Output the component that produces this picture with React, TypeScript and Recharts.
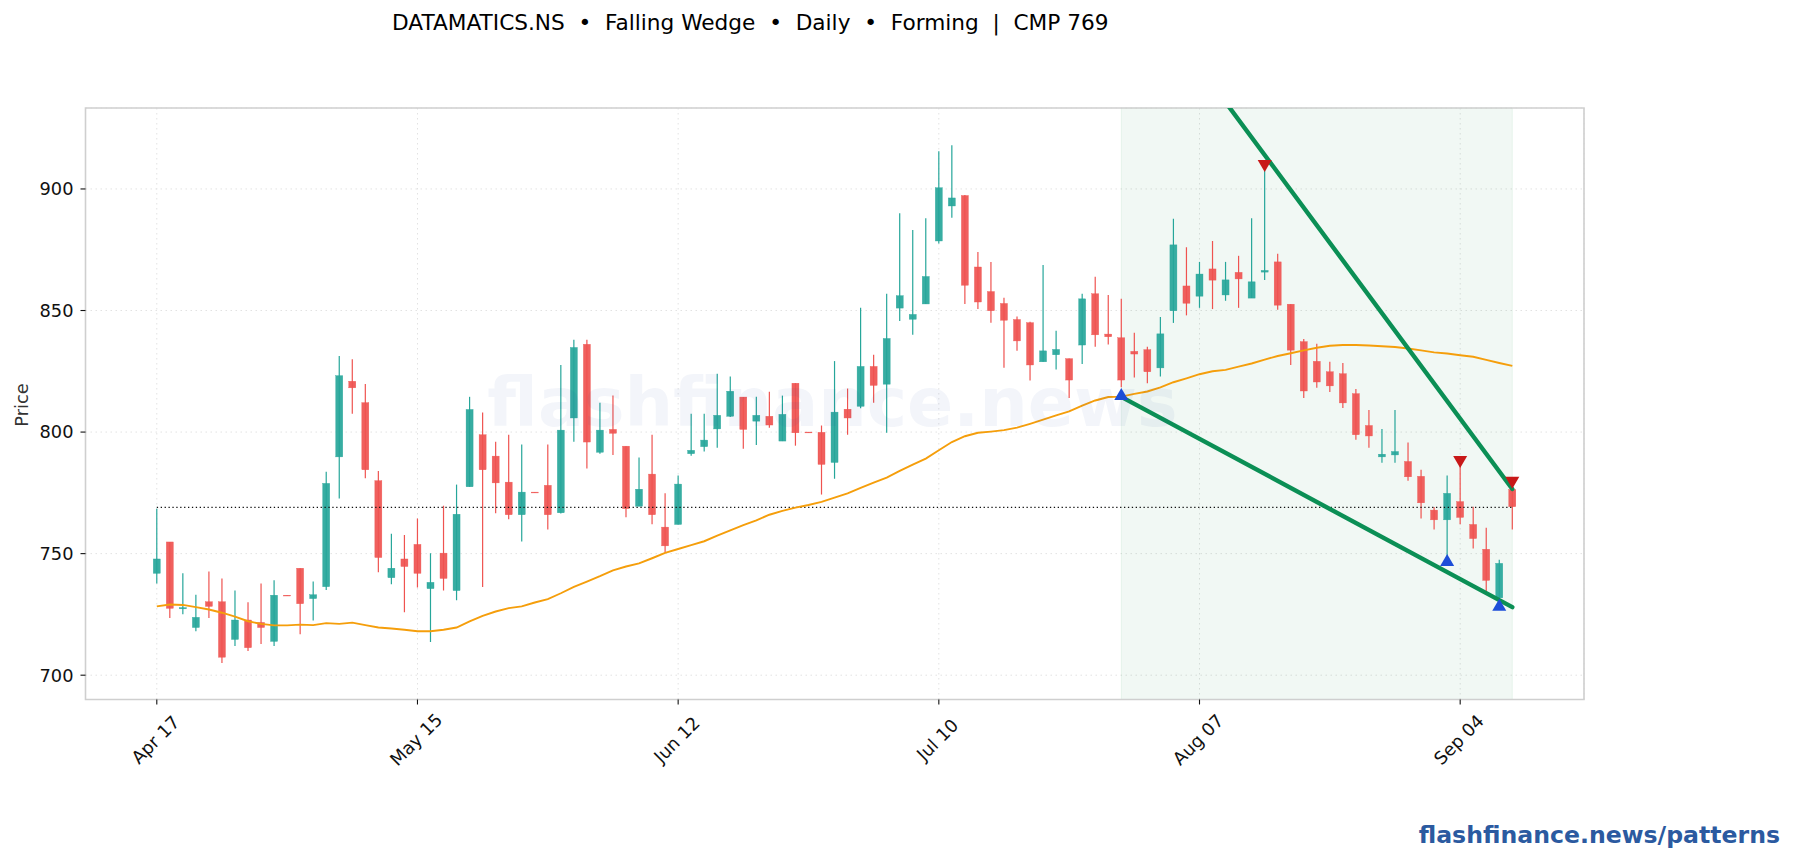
import React from "react";
import { ComposedChart, Bar, Line, XAxis, YAxis, CartesianGrid, ReferenceArea } from "recharts";

const opens = [741.9,754.8,727.3,719.6,730.2,730.2,714.7,722.7,721.7,713.9,732.9,744,731.5,736.4,789.8,820.9,812.1,780,740.1,747.8,753.8,735.6,750.2,734.8,777.5,798.9,790.1,779.4,766,775.3,778.1,766.8,805.8,836.1,791.7,801.1,794.2,769.5,782.7,760.9,762,791.1,794,801.3,806.5,814.4,804.5,806.5,796.3,820.1,800,799.9,787.5,809.4,810.6,827,819.7,851,846.4,852.7,878.6,893,897.3,867.9,857.8,852.9,846.3,845,828.9,831.8,830.2,835.8,856.9,840.3,838.8,833.2,833.9,826.4,849.9,860.1,855.9,867.1,856.4,865.7,855.1,865.8,870,852.6,837.2,829.1,824.8,824,815.8,802.7,789.8,790.6,787.9,781.8,767.9,763.9,771.4,762,751.8,731.8,776.4];
const highs = [768.5,754.8,741.9,733.1,742.7,739.8,734.8,730,737.7,739,732.9,744,738.5,783.7,831.3,830,819.8,784,758.2,757.7,764.4,750.2,769.7,778.4,814.5,808,796,798.9,794.9,775.3,794.9,827.6,838,838,812.1,815,794.2,789.5,798.9,774.8,782.1,807.5,807.5,824,822.9,814.4,814.5,816.6,815,820.1,800,802.7,829.2,817.9,851.1,831.8,856.9,890,883.1,888,915.5,918,897.5,874.1,870,855.3,847.5,845.4,868.7,841.7,830.3,856.9,863.9,856.4,854.8,840.9,835.1,847.3,887.7,876,870,878.6,870,872.5,888,909.9,873.3,852.6,838.3,836.3,828.9,828.4,817.7,809.1,801.3,809.1,795.7,784.5,769.2,782.1,787.7,769.3,760.6,747.5,778.9];
const lows = [737.7,723.5,725.1,718.1,723.5,705,712,709.9,712.8,712,732.7,716.8,722.5,735,772.7,807.5,781,742.3,737.4,725.9,736.1,713.6,734.8,730.8,777.5,736.3,766.6,764.1,755,775.1,759.9,766.5,796,785,791.1,790.6,765,769.5,762.1,750.5,762,790.3,792,793.6,806.2,793.1,794.7,801.8,796.3,794.4,799.8,774.3,780.8,798.9,809.8,812.1,799.7,845.7,840,852.7,877.6,888.2,852.7,850.6,845,826.5,833.5,821.2,828.9,825.7,814,828,835.1,836,818.4,822.4,820.1,822.9,844.9,848,851.1,850.6,854,851.1,855.1,862.6,850.3,827.6,814,818.2,816.5,809.9,796.8,793.6,787.4,787.4,780,764.4,759.9,747,762.1,752.1,734.2,729.5,759.9];
const closes = [747.8,727.5,727.8,723.8,728.3,707.4,722.7,711.3,719.6,732.9,732.7,729.4,733.1,778.9,823.2,818.2,784.5,748.4,744,744.7,741.9,738.2,739.8,766.2,809.3,784.5,779.1,766,775.3,775.1,766,800.8,834.8,795.9,800.8,799.5,768.5,776.5,766,753.2,778.6,792.5,796.7,806.9,816.8,801.1,806.9,802.9,807.3,799.7,799.8,786.7,808.2,805.8,827,819.2,838.5,856.1,848.4,864,900.5,896.3,860.4,853.5,849.9,846,837.5,827.6,833.4,834,821.4,854.8,840,839.2,821.4,832.1,824.8,840.4,877,853,865,862.5,862.6,863,861.8,866.5,852.2,833.7,816.9,820.6,819,812,798.9,798.4,790.9,792,781.6,770.9,763.9,774.8,764.9,756.2,739,746,769.3];
const movingAvg = [728.3,729.1,728.9,728,727,725.7,724.1,722.2,721.1,720.5,720.5,720.8,720.6,721.4,721.1,721.6,720.6,719.6,719.2,718.7,718.1,718.1,718.7,719.6,722.1,724.4,726.2,727.6,728.3,729.9,731.3,733.7,736.3,738.5,740.7,743.1,744.7,746,748.1,750.3,751.9,753.5,755.1,757.4,759.6,761.7,763.7,766,767.6,768.9,770,771.3,773,774.8,777,779.2,781.3,784,786.6,789.1,792.5,795.9,798.3,799.7,800.2,800.8,801.8,803.4,805.1,806.9,808.5,810.9,813,814.4,814.6,815.7,816.7,818.4,820.5,822.1,823.8,825,825.6,826.9,828.2,829.8,831.3,832.4,833.6,834.7,835.5,835.8,835.8,835.6,835.3,835,834.4,833.6,832.8,832.3,831.6,831,829.7,828.4,827.2];
const tickIndex = [0, 20, 40, 60, 80, 100];
const tickLabels = ["Apr 17", "May 15", "Jun 12", "Jul 10", "Aug 07", "Sep 04"];
const priceTicks = [700, 750, 800, 850, 900];
const cmpPrice = 769;
const patternStart = 74;
const patternEnd = 104;
const upperLine = [993.5, 776.6];
const lowerLine = [814.5, 728];
const troughs = [[74, 815.7], [99, 747.4], [103, 729]];
const peaks = [[85, 909.4], [100, 787.7], [104, 779.2]];
const xDomain = [-5.47, 109.5];
const yDomain = [690, 933.3];

const GREEN = "#26a69a";
const RED = "#ef5350";

const rows = opens.map((o, i) => {
  const row: any = {
    i, open: o, high: highs[i], low: lows[i], close: closes[i],
    range: [lows[i], highs[i]], ma: movingAvg[i], cmp: i === 0 || i === patternEnd ? cmpPrice : null,
    upper: i === patternStart ? upperLine[0] : i === patternEnd ? upperLine[1] : null,
    lower: i === patternStart ? lowerLine[0] : i === patternEnd ? lowerLine[1] : null,
    up: null, down: null,
  };
  troughs.forEach(([x, v]) => { if (x === i) row.up = v; });
  peaks.forEach(([x, v]) => { if (x === i) row.down = v; });
  return row;
});

function Candle(props: any) {
  const { x, y, width, height, payload } = props;
  const { open, high, low, close } = payload;
  const cx = x + width / 2;
  const span = high - low || 1;
  const perUnit = height / span;
  const top = y + (high - Math.max(open, close)) * perUnit;
  const bottom = y + (high - Math.min(open, close)) * perUnit;
  const color = close >= open ? GREEN : RED;
  return (
    <g>
      <line x1={cx} x2={cx} y1={y} y2={y + height} stroke={color} strokeWidth={1.2} />
      <rect x={cx - 3.5} y={top} width={7} height={Math.max(bottom - top, 0.8)} fill={color} fillOpacity={0.92} stroke={color} strokeOpacity={0.9} strokeWidth={0.4} />
    </g>
  );
}

function UpMark(props: any) {
  const { cx, cy, value, index } = props;
  if (value == null) return <g key={index} />;
  return <path key={index} d={`M${cx - 7},${cy + 6}L${cx + 7},${cy + 6}L${cx},${cy - 6}Z`} fill="#1d4ed8" />;
}

function DownMark(props: any) {
  const { cx, cy, value, index } = props;
  if (value == null) return <g key={index} />;
  return <path key={index} d={`M${cx - 7},${cy - 6}L${cx + 7},${cy - 6}L${cx},${cy + 6}Z`} fill="#c81818" />;
}

function XTick(props: any) {
  const { x, y, payload, index } = props;
  const cy = y + 33;
  const cx = x - 1.5;
  return (
    <text x={cx} y={cy} textAnchor="middle" dominantBaseline="central" transform={`rotate(-45 ${cx} ${cy})`} fontSize={17.8} fontFamily="DejaVu Sans" fill="#111">
      {tickLabels[index] ?? payload.value}
    </text>
  );
}

const overlay = (style: React.CSSProperties): React.CSSProperties => ({
  position: "absolute", whiteSpace: "pre", fontFamily: "DejaVu Sans", lineHeight: 1, pointerEvents: "none", ...style,
});

export default function App() {
  return (
    <div style={{ position: "absolute", left: 0, top: 0, width: 1793, height: 860, background: "#fff", overflow: "hidden" }}>
      <ComposedChart
        width={1793}
        height={860}
        data={rows}
        margin={{ top: 108, left: 25.5, right: 209, bottom: 110.5 }}
        barSize={7}
      >
        <ReferenceArea x1={patternStart} x2={patternEnd} y1={yDomain[0]} y2={yDomain[1]} fill="#0a8f3c" fillOpacity={0.06} stroke="#0a8f3c" strokeOpacity={0.07} ifOverflow="visible" />
        <CartesianGrid stroke="#e2e2e2" strokeDasharray="1.5 3.5" />
        <XAxis
          dataKey="i"
          type="number"
          domain={xDomain}
          allowDataOverflow
          ticks={tickIndex}
          tick={<XTick />}
          tickSize={5}
          tickLine={{ stroke: "#111", strokeWidth: 1.1 }}
          axisLine={false}
          height={50}
          interval={0}
        />
        <YAxis
          type="number"
          domain={yDomain}
          allowDataOverflow
          ticks={priceTicks}
          tickSize={5}
          tickMargin={7}
          tickLine={{ stroke: "#111", strokeWidth: 1.1 }}
          tick={{ fontSize: 17.8, fontFamily: "DejaVu Sans", fill: "#111" }}
          axisLine={false}
          width={60}
        />
        <ReferenceArea x1={xDomain[0]} x2={xDomain[1]} y1={yDomain[0]} y2={yDomain[1]} fill="none" stroke="#cfcfcf" strokeWidth={1.6} ifOverflow="visible" />
        <Line dataKey="cmp" connectNulls dot={false} stroke="#111" strokeWidth={1.3} strokeDasharray="1.3 2.6" isAnimationActive={false} legendType="none" />
        <Bar dataKey="range" shape={<Candle />} isAnimationActive={false} />
        <Line dataKey="ma" dot={false} stroke="#f59e0b" strokeWidth={1.9} isAnimationActive={false} />
        <Line dataKey="upper" connectNulls dot={false} stroke="#0b8f55" strokeWidth={4.4} strokeLinecap="round" isAnimationActive={false} />
        <Line dataKey="lower" connectNulls dot={false} stroke="#0b8f55" strokeWidth={4.4} strokeLinecap="round" isAnimationActive={false} />
        <Line dataKey="up" stroke="none" dot={<UpMark />} isAnimationActive={false} />
        <Line dataKey="down" stroke="none" dot={<DownMark />} isAnimationActive={false} />
      </ComposedChart>
      <div style={overlay({ left: 392, top: 12, fontSize: 21.65, color: "#000" })}>DATAMATICS.NS  •  Falling Wedge  •  Daily  •  Forming  |  CMP 769</div>
      <div style={overlay({ left: 22, top: 405, fontSize: 17.8, color: "#333", transform: "translate(-50%,-50%) rotate(-90deg)" })}>Price</div>
      <div style={overlay({ left: 832.5, top: 403, fontSize: 68.2, fontWeight: 700, color: "rgba(30,70,160,0.055)", transform: "translate(-50%,-50%)" })}>flashfinance.news</div>
      <div style={overlay({ right: 13, top: 824, fontSize: 23.6, fontWeight: 700, color: "#2b5aa0" })}>flashfinance.news/patterns</div>
    </div>
  );
}
